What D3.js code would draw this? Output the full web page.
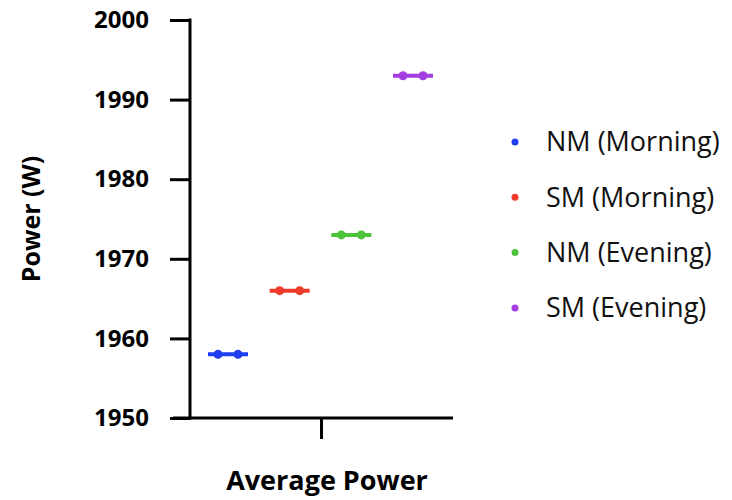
<!DOCTYPE html>
<html><head><meta charset="utf-8">
<script src="https://cdn.jsdelivr.net/npm/d3@7"></script>
<style>body{margin:0;background:#fff}svg{display:block}</style>
</head><body>
<script>
const categories = ["NM (Morning)", "SM (Morning)", "NM (Evening)", "SM (Evening)"];
const values = [1958, 1966, 1973, 1993];
const colors = ["#1f3ff0", "#ef3b2a", "#4cc43a", "#a53ee0"];
const yTicks = [1950, 1960, 1970, 1980, 1990, 2000];
const xLabel = "Average Power";
const yLabel = "Power (W)";

const W = 732, H = 500;
const svg = d3.select("body").append("svg").attr("width", W).attr("height", H);
const font = "'Open Sans', Lato, sans-serif";

const y = d3.scaleLinear().domain([1950, 2000]).range([418, 20]);
const x = d3.scalePoint().domain(categories).range([228, 413]);

// y axis
const yAxis = d3.axisLeft(y).tickValues(yTicks).tickSize(20).tickPadding(21).tickSizeOuter(0).tickFormat(d3.format("d"));
const gy = svg.append("g").attr("transform", "translate(190,0)").call(yAxis);
gy.select(".domain").attr("stroke", "#000").attr("stroke-width", 3).attr("d", `M0,${y(2000)-1.5}V${y(1950)+1.5}`);
gy.selectAll(".tick line").attr("stroke", "#000").attr("stroke-width", 3);
gy.selectAll(".tick text").attr("font-family", font).attr("font-weight", "bold").attr("font-size", 24).attr("fill", "#000");

// x axis
const gx = svg.append("g").attr("transform", "translate(0,418)")
  .call(d3.axisBottom(d3.scalePoint().domain([xLabel]).range([321, 321])).tickSize(21).tickFormat(""));
gx.select(".domain").remove();
gx.append("line").attr("x1", 173).attr("x2", 453).attr("stroke", "#000").attr("stroke-width", 3);
gx.selectAll(".tick line").attr("stroke", "#000").attr("stroke-width", 3);

svg.append("text").attr("x", 327).attr("y", 490).attr("text-anchor", "middle")
  .attr("font-family", font).attr("font-weight", "bold").attr("font-size", 27).text(xLabel);
svg.append("text").attr("transform", "translate(40,219) rotate(-90)").attr("text-anchor", "middle")
  .attr("font-family", font).attr("font-weight", "bold").attr("font-size", 25).text(yLabel);

// marks
const g = svg.append("g");
categories.forEach((c, i) => {
  const cx = x(c), cy = y(values[i]);
  g.append("line").attr("x1", cx - 20).attr("x2", cx + 20).attr("y1", cy).attr("y2", cy)
    .attr("stroke", colors[i]).attr("stroke-width", 4);
  [-10, 10].forEach(d => g.append("circle").attr("cx", cx + d).attr("cy", cy).attr("r", 4.5).attr("fill", colors[i]));
});

// legend
const lg = svg.append("g");
categories.forEach((c, i) => {
  const ly = 142 + i * 55.3;
  lg.append("circle").attr("cx", 515).attr("cy", ly).attr("r", 3.5).attr("fill", colors[i]);
  lg.append("text").attr("x", 546).attr("y", ly).attr("dy", "0.35em")
    .attr("font-family", font).attr("font-size", 27).attr("fill", "#111").text(c);
});
</script>
</body></html>
